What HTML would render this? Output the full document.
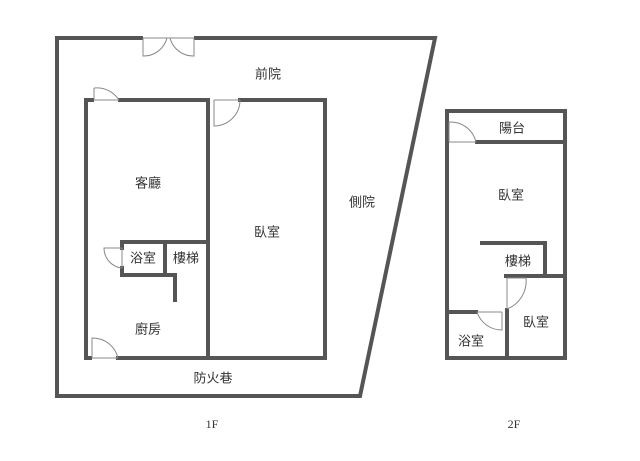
<!DOCTYPE html>
<html><head><meta charset="utf-8"><style>
html,body{margin:0;padding:0;background:#fff;}
svg{display:block;}
text{font-family:"Liberation Sans","Noto Sans CJK TC",sans-serif;font-size:13px;fill:#333;text-anchor:middle;dominant-baseline:central;}
.f{font-family:"Liberation Serif",serif;font-size:12px;}
</style></head><body>
<svg width="640" height="461" viewBox="0 0 640 461" xmlns="http://www.w3.org/2000/svg">
<g stroke="#555" stroke-width="4" fill="none" stroke-linecap="square">
<!-- 1F outer -->
<polyline points="141,38 57,38 57,396 360,396 435,38 196,38"/>
<!-- inner -->
<polyline points="92,100 86,100 86,358 90,358"/>
<line x1="120" y1="100" x2="208" y2="100"/>
<line x1="240" y1="100" x2="325" y2="100"/>
<line x1="208" y1="100" x2="208" y2="358"/>
<polyline points="325,100 325,358 118,358"/>
<polyline points="122,248 122,242 208,242"/>
<polyline points="122,268 122,275 175,275 175,300"/>
<line x1="165" y1="242" x2="165" y2="275"/>
<!-- 2F -->
<rect x="447" y="111" width="118" height="247"/>
<line x1="477" y1="142" x2="565" y2="142"/>
<polyline points="482,243 545,243 545,275"/>
<line x1="506" y1="276" x2="565" y2="276"/>
<line x1="507" y1="310" x2="507" y2="358"/>
<line x1="447" y1="312" x2="476" y2="312"/>
</g>
<g stroke="#888" stroke-width="1" fill="none">
<!-- front double door -->
<path d="M143,38 L143,56 A24,24 0 0 0 167,38"/><path d="M194,38 L194,56 A24,24 0 0 1 170,38"/>
<line x1="143" y1="38" x2="194" y2="38"/>
<!-- living door -->
<path d="M94,100 L94,88 M94,88 A26,26 0 0 1 119,100"/><line x1="94" y1="100" x2="119" y2="100"/>
<!-- bedroom door -->
<path d="M214,100 L214,126 A26,26 0 0 0 240,100"/><line x1="214" y1="100" x2="240" y2="100"/>
<!-- bath door -->
<path d="M122,248 L104,248 A20,20 0 0 0 122,268"/><line x1="122" y1="248" x2="122" y2="268"/>
<!-- kitchen door -->
<path d="M92,358 L92,338 A26,26 0 0 1 118,358"/><line x1="92" y1="358" x2="118" y2="358"/>
<!-- balcony door -->
<path d="M449,142 L449,122 A26,26 0 0 1 476,142"/><line x1="449" y1="142" x2="476" y2="142"/>
<!-- 2F bedroom door -->
<path d="M507,278 L526,278 A30,30 0 0 1 507,309"/><line x1="507" y1="278" x2="507" y2="309"/>
<!-- 2F bath door -->
<path d="M502,312 L502,330 A26,26 0 0 1 477,312"/><line x1="477" y1="312" x2="502" y2="312"/>
</g>
<text x="268" y="74">前院</text>
<text x="148" y="183">客廳</text>
<text x="267" y="232">臥室</text>
<text x="362" y="202">側院</text>
<text x="143" y="258">浴室</text>
<text x="186" y="258">樓梯</text>
<text x="148" y="329">廚房</text>
<text x="213" y="378">防火巷</text>
<text class="f" x="212" y="424">1F</text>
<text class="f" x="514" y="424">2F</text>
<text x="512" y="128">陽台</text>
<text x="511" y="195">臥室</text>
<text x="518" y="261">樓梯</text>
<text x="536" y="322">臥室</text>
<text x="471" y="341">浴室</text>
</svg>
</body></html>
